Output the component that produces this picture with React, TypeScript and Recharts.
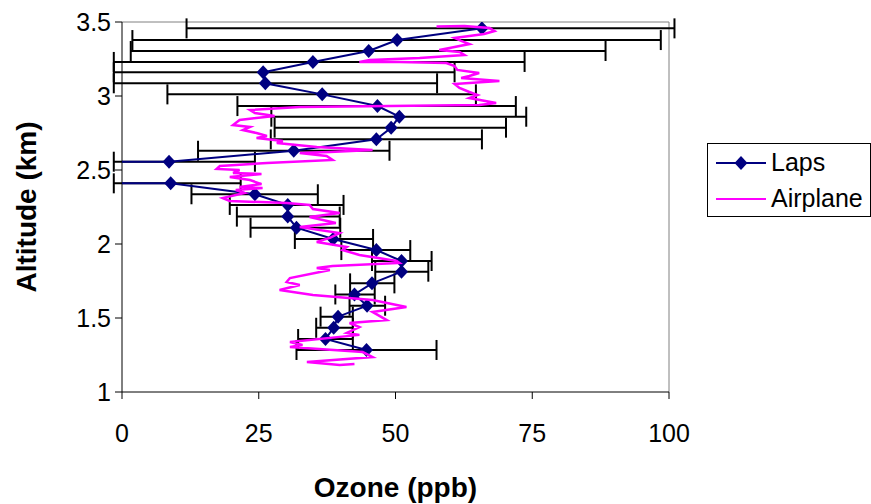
import React from 'react';
import {
  ScatterChart, Scatter, XAxis, YAxis, ErrorBar, ReferenceLine, Legend
} from 'recharts';

// Laps profile: ozone (ppb), altitude (km), error bar bounds
// the level at 2.483 km has a missing-value flag (-999), so the line runs off the left edge
const lapsOzone = [65.8, 50.3, 45.1, 34.9, 25.8, 26.2, 36.6, 46.7, 50.7, 49.2, 46.5, 31.4, 8.6, -999, 8.9, 24.3, 30.3, 30.3, 31.9, 38.6, 46.5, 51.1, 51.1, 45.7, 42.5, 44.8, 39.5, 38.7, 37.2, 44.7];
const lapsAlt = [3.457, 3.378, 3.304, 3.23, 3.16, 3.086, 3.011, 2.932, 2.86, 2.786, 2.707, 2.63, 2.556, 2.483, 2.41, 2.336, 2.264, 2.185, 2.11, 2.034, 1.959, 1.885, 1.813, 1.734, 1.659, 1.583, 1.509, 1.434, 1.358, 1.284];
const lapsLow = [11.8, 1.9, 1.6, -1.5, -1.5, -1.5, 8.3, 21.1, 27.3, 27.9, 27.2, 13.9, -1.5, -999, -1.5, 12.7, 19.7, 21.0, 23.5, 31.6, 40.1, 45.7, 46.3, 41.7, 39.0, 41.6, 36.3, 35.5, 32.2, 31.9];
const lapsHigh = [101, 98.5, 88.4, 73.6, 60.8, 57.6, 64.7, 72.0, 73.9, 70.2, 65.8, 48.9, 24.3, -999, 21.7, 35.8, 40.5, 39.8, 39.9, 45.9, 52.7, 56.6, 56.0, 49.8, 46.2, 48.1, 42.2, 42.2, 42.2, 57.5];

// Airplane profile
const airOzone = [57.5, 62.6, 67.2, 68.1, 66.2, 63.5, 60.8, 62.0, 63.5, 60.8, 58.0, 61.7, 62.6, 54.4, 45.3, 43.4, 50.7, 59.3, 60.8, 61.3, 65.3, 63.5, 62.0, 69.0, 63.5, 60.8, 61.7, 63.5, 65.0, 63.5, 68.4, 65.3, 48.9, 32.5, 23.4, 24.3, 27.9, 21.5, 20.3, 23.4, 22.1, 24.6, 26.5, 24.6, 29.4, 28.3, 35.6, 45.8, 38.0, 32.5, 37.4, 38.5, 26.5, 17.9, 17.3, 21.5, 20.3, 25.5, 19.7, 23.4, 25.5, 21.5, 25.7, 20.8, 22.4, 18.4, 19.7, 30.1, 34.3, 34.9, 39.8, 34.3, 39.1, 32.5, 39.8, 38.0, 35.6, 41.1, 40.3, 43.4, 50.2, 50.7, 38.5, 35.6, 38.0, 30.7, 30.1, 32.5, 28.8, 34.9, 45.8, 52.0, 45.8, 48.4, 41.6, 43.4, 41.1, 43.4, 30.7, 33.0, 30.7, 44.0, 45.8, 33.8, 39.8, 42.5];
const airAlt = [3.47, 3.473, 3.459, 3.439, 3.419, 3.405, 3.392, 3.372, 3.351, 3.331, 3.311, 3.297, 3.277, 3.257, 3.243, 3.23, 3.23, 3.223, 3.203, 3.176, 3.155, 3.135, 3.122, 3.101, 3.088, 3.081, 3.054, 3.027, 3.007, 2.986, 2.953, 2.939, 2.932, 2.926, 2.905, 2.885, 2.865, 2.838, 2.804, 2.791, 2.77, 2.75, 2.73, 2.716, 2.696, 2.682, 2.655, 2.635, 2.622, 2.615, 2.595, 2.568, 2.547, 2.527, 2.507, 2.5, 2.48, 2.473, 2.453, 2.432, 2.405, 2.385, 2.378, 2.365, 2.345, 2.311, 2.291, 2.277, 2.264, 2.236, 2.209, 2.182, 2.142, 2.115, 2.074, 2.041, 2.014, 1.98, 1.959, 1.926, 1.885, 1.872, 1.851, 1.838, 1.824, 1.77, 1.743, 1.723, 1.689, 1.655, 1.622, 1.574, 1.541, 1.486, 1.466, 1.439, 1.399, 1.386, 1.338, 1.318, 1.304, 1.27, 1.236, 1.203, 1.182, 1.189];

const ozoneTicks = [0, 25, 50, 75, 100];
const altTicks = [1, 1.5, 2, 2.5, 3, 3.5];

const lapsData = lapsOzone.map((x, i) => ({
  x, y: lapsAlt[i], err: [x - lapsLow[i], lapsHigh[i] - x]
}));
const airData = airOzone.map((x, i) => ({ x, y: airAlt[i] }));

const FONT = '"Liberation Sans", Arial, sans-serif';
const NAVY = '#000080';
const MAGENTA = '#FF00FF';

const Diamond = (props: any) => {
  const { cx, cy } = props;
  if (cx == null || cy == null || cx < 0) return <g />;
  return <path d={`M${cx},${cy - 7}L${cx + 6.5},${cy}L${cx},${cy + 7}L${cx - 6.5},${cy}Z`} fill={NAVY} />;
};

const NoDot = () => <g />;

const LegendBox = () => (
  <div style={{
    width: 164, height: 74, boxSizing: 'border-box', border: '1px solid #000',
    background: '#fff', fontFamily: FONT, fontSize: 25, color: '#000', position: 'relative'
  }}>
    <svg width={60} height={74} style={{ position: 'absolute', left: 0, top: 0 }}>
      <line x1={8} y1={19} x2={58} y2={19} stroke={NAVY} strokeWidth={2} />
      <path d="M33,12L39.5,19L33,26L26.5,19Z" fill={NAVY} />
      <line x1={8} y1={55} x2={58} y2={55} stroke={MAGENTA} strokeWidth={2} />
    </svg>
    <div style={{ position: 'absolute', left: 63, top: 4, lineHeight: '28px' }}>Laps</div>
    <div style={{ position: 'absolute', left: 63, top: 40, lineHeight: '28px' }}>Airplane</div>
  </div>
);

const XTitle = (props: any) => {
  const { viewBox } = props;
  return (
    <text x={viewBox.x + viewBox.width / 2} y={487} textAnchor="middle" dominantBaseline="central"
      fontFamily={FONT} fontSize={28} fontWeight="bold" fill="#000">Ozone (ppb)</text>
  );
};

const YTitle = (props: any) => {
  const { viewBox } = props;
  const cx = 26;
  const cy = viewBox.y + viewBox.height / 2;
  return (
    <text x={cx} y={cy} transform={`rotate(-90, ${cx}, ${cy})`} textAnchor="middle" dominantBaseline="central"
      fontFamily={FONT} fontSize={28} fontWeight="bold" fill="#000">Altitude (km)</text>
  );
};

export default function App() {
  return (
    <div style={{ position: 'absolute', left: 0, top: 0, width: 871, height: 504, background: '#fff' }}>
      <ScatterChart width={871} height={504} margin={{ top: 22, right: 202, bottom: 0, left: 0 }}>
        <XAxis
          type="number" dataKey="x" domain={[0, 100]} ticks={ozoneTicks} allowDataOverflow
          height={112} stroke="#000" tickSize={7} tickMargin={25}
          tick={{ fontSize: 25, fill: '#000', fontFamily: FONT }}
          label={<XTitle />}
        />
        <YAxis
          type="number" dataKey="y" domain={[1, 3.5]} ticks={altTicks} allowDataOverflow
          width={122} stroke="#000" tickSize={7} tickMargin={4}
          tick={{ fontSize: 25, fill: '#000', fontFamily: FONT }}
          label={<YTitle />}
        />
        <ReferenceLine y={3.5} stroke="#808080" strokeWidth={1} />
        <ReferenceLine x={100} stroke="#808080" strokeWidth={1} />
        <Scatter
          name="Laps" data={lapsData} shape={<Diamond />} fill={NAVY}
          line={{ stroke: NAVY, strokeWidth: 2 }} lineType="joint"
          isAnimationActive={false}
        >
          <ErrorBar dataKey="err" direction="x" stroke="#000" strokeWidth={2} width={10} isAnimationActive={false} />
        </Scatter>
        <Scatter
          name="Airplane" data={airData} shape={<NoDot />} fill={MAGENTA}
          line={{ stroke: MAGENTA, strokeWidth: 2.5 }} lineType="joint"
          isAnimationActive={false}
        />
        <Legend
          layout="horizontal" align="center" verticalAlign="middle"
          wrapperStyle={{ left: 707, top: 143, width: 164, height: 74 }}
          content={() => <LegendBox />}
        />
      </ScatterChart>
    </div>
  );
}
